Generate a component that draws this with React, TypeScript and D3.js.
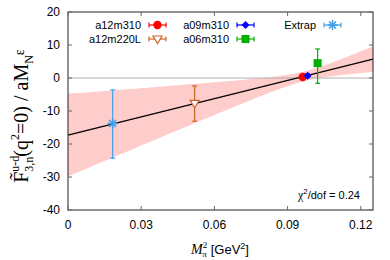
import React, { useEffect } from "react";
import * as d3 from "d3";

// lattice ensembles
const ensembles = ["a12m310", "a12m220L", "a09m310", "a06m310", "Extrap"];
const mpi2 = [0.0962, 0.0519, 0.0982, 0.1023, 0.0183];
const fVal = [0.3, -7.7, 0.7, 4.5, -13.8];
const fLow = [-0.4, -13.1, 0.2, -1.6, -24.3];
const fHigh = [1.0, -2.4, 1.2, 8.8, -3.6];
const colors = ["#ff0000", "#cc6622", "#0000ff", "#00b000", "#3fa0e8"];
const shapes = ["circle", "tri", "diamond", "square", "star"];

// linear fit  F = a + b * M_pi^2
const fitA = -17.3;
const fitB = 184;
const errA = 12.5;
const errB = 128;
const corrAB = -0.993;
const chi2 = "0.24";

const xTicks = [0, 0.03, 0.06, 0.09, 0.12];
const yTicks = [20, 10, 0, -10, -20, -30, -40];

const W = 390;
const H = 260;
const m = { left: 68, right: 373, top: 12, bottom: 210 };

function Marker({ shape, color, x, y }) {
  if (shape === "circle") return <circle cx={x} cy={y} r={4.2} fill={color} />;
  if (shape === "square")
    return <rect x={x - 4} y={y - 4} width={8} height={8} fill={color} />;
  if (shape === "diamond")
    return (
      <path d={`M${x},${y - 4}L${x + 4},${y}L${x},${y + 4}L${x - 4},${y}Z`} fill={color} />
    );
  if (shape === "tri")
    return (
      <path
        d={`M${x - 4.5},${y - 3}L${x + 4.5},${y - 3}L${x},${y + 4.5}Z`}
        fill="white"
        stroke={color}
        strokeWidth={1.2}
      />
    );
  const r = 5;
  return (
    <g stroke={color} strokeWidth={1.6}>
      <line x1={x - r} y1={y} x2={x + r} y2={y} />
      <line x1={x} y1={y - r} x2={x} y2={y + r} />
      <line x1={x - r * 0.7} y1={y - r * 0.7} x2={x + r * 0.7} y2={y + r * 0.7} />
      <line x1={x - r * 0.7} y1={y + r * 0.7} x2={x + r * 0.7} y2={y - r * 0.7} />
    </g>
  );
}

export default function App() {
  useEffect(() => {
    document.body.style.margin = "0";
  }, []);

  const x = d3.scaleLinear().domain([0, 0.125]).range([m.left, m.right]);
  const y = d3.scaleLinear().domain([-40, 20]).range([m.bottom, m.top]);

  const sigma = (t) =>
    Math.sqrt(errA * errA + 2 * corrAB * errA * errB * t + errB * errB * t * t);
  const grid = d3.range(0, 0.1251, 0.0025);
  const band = d3
    .area()
    .x((t) => x(t))
    .y0((t) => y(fitA + fitB * t - sigma(t)))
    .y1((t) => y(fitA + fitB * t + sigma(t)))(grid);
  const fitLine = d3
    .line()
    .x((t) => x(t))
    .y((t) => y(fitA + fitB * t))([0, 0.125]);

  const sans = "Liberation Sans, Arial, sans-serif";
  const serif = "Liberation Serif, Times New Roman, serif";

  // legend layout: [column text end, row]
  const legendPos = [
    [141, 0],
    [141, 1],
    [229, 0],
    [229, 1],
    [316, 0],
  ];
  const rowY = [25, 39];

  const drawOrder = [4, 1, 0, 2, 3];

  return (
    <svg width={W} height={H} style={{ display: "block" }}>
      <rect width={W} height={H} fill="white" />
      <path d={band} fill="#ffcccc" />
      <line x1={m.left} x2={m.right} y1={y(0)} y2={y(0)} stroke="#b0b0b0" strokeWidth={1} />
      <path d={fitLine} stroke="black" strokeWidth={1.2} fill="none" />

      {drawOrder.map((i) => (
        <g key={ensembles[i]}>
          <g stroke={colors[i]} strokeWidth={1.2}>
            <line x1={x(mpi2[i])} x2={x(mpi2[i])} y1={y(fLow[i])} y2={y(fHigh[i])} />
            <line x1={x(mpi2[i]) - 2.5} x2={x(mpi2[i]) + 2.5} y1={y(fLow[i])} y2={y(fLow[i])} />
            <line x1={x(mpi2[i]) - 2.5} x2={x(mpi2[i]) + 2.5} y1={y(fHigh[i])} y2={y(fHigh[i])} />
          </g>
          <Marker shape={shapes[i]} color={colors[i]} x={x(mpi2[i])} y={y(fVal[i])} />
        </g>
      ))}

      {/* frame and ticks */}
      <rect
        x={m.left}
        y={m.top}
        width={m.right - m.left}
        height={m.bottom - m.top}
        fill="none"
        stroke="#222"
        strokeWidth={1}
      />
      {xTicks.map((t) => (
        <g key={"x" + t}>
          <line x1={x(t)} x2={x(t)} y1={m.bottom} y2={m.bottom - 4} stroke="#666" />
          <line x1={x(t)} x2={x(t)} y1={m.top} y2={m.top + 4} stroke="#666" />
          <text x={x(t)} y={229} textAnchor="middle" fontFamily={sans} fontSize={12}>
            {t === 0 ? "0" : d3.format(".2f")(t)}
          </text>
        </g>
      ))}
      {yTicks.map((t) => (
        <g key={"y" + t}>
          <line x1={m.left} x2={m.left + 4} y1={y(t)} y2={y(t)} stroke="#666" />
          <line x1={m.right} x2={m.right - 4} y1={y(t)} y2={y(t)} stroke="#666" />
          <text x={60} y={y(t) + 4} textAnchor="end" fontFamily={sans} fontSize={12}>
            {t}
          </text>
        </g>
      ))}

      {/* legend */}
      {ensembles.map((name, i) => {
        const [tx, row] = legendPos[i];
        const ly = rowY[row];
        const sx = tx + 8;
        return (
          <g key={"leg" + name}>
            <text x={tx} y={ly + 4} textAnchor="end" fontFamily={sans} fontSize={11}>
              {name}
            </text>
            <g stroke={colors[i]} strokeWidth={1.2}>
              <line x1={sx} x2={sx + 17} y1={ly} y2={ly} />
              <line x1={sx} x2={sx} y1={ly - 2.5} y2={ly + 2.5} />
              <line x1={sx + 17} x2={sx + 17} y1={ly - 2.5} y2={ly + 2.5} />
            </g>
            <Marker shape={shapes[i]} color={colors[i]} x={sx + 8.5} y={ly} />
          </g>
        );
      })}

      <text x={360} y={199} textAnchor="end" fontFamily={sans} fontSize={11}>
        <tspan fontFamily={serif} fontSize={12}>χ</tspan>
        <tspan dy={-5} fontSize={8}>2</tspan>
        <tspan dy={5}>/dof = {chi2}</tspan>
      </text>

      {/* x axis title */}
      <text x={220} y={254} textAnchor="middle" fontFamily={sans} fontSize={13}>
        <tspan fontFamily={serif} fontStyle="italic" fontSize={14}>M</tspan>
        <tspan fontFamily={serif} fontSize={9} dy={-6}>2</tspan>
        <tspan fontFamily={serif} fontSize={9} dx={-5} dy={9}>π</tspan>
        <tspan dx={4} dy={-3}>[GeV</tspan>
        <tspan fontSize={9} dy={-5}>2</tspan>
        <tspan dy={5}>]</tspan>
      </text>

      {/* y axis title */}
      <g transform="translate(28,116) rotate(-90)">
        <text x={0} y={0} textAnchor="middle" fontFamily={serif} fontSize={20}>
          <tspan>{"F\u0303"}</tspan>
          <tspan fontSize={12} dy={-9}>u-d</tspan>
          <tspan fontSize={12} dx={-16} dy={14}>3,n</tspan>
          <tspan dy={-5}>(q</tspan>
          <tspan fontSize={12} dy={-9}>2</tspan>
          <tspan dy={9}>=0) / aM</tspan>
          <tspan fontSize={12} dy={5}>N</tspan>
          <tspan fontSize={14} dy={-9}>ε</tspan>
        </text>
      </g>
    </svg>
  );
}
